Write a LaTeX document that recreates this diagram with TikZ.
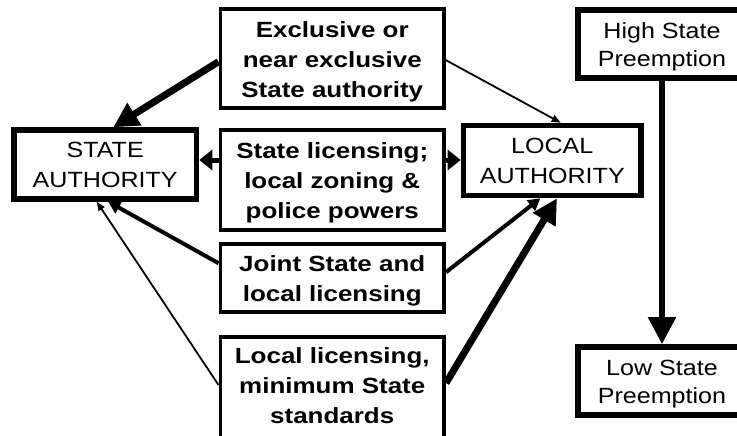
\documentclass[tikz,border=0pt]{standalone}
\usepackage{fontspec}
\usepackage{graphicx}
\setmainfont{Liberation Sans}
\usetikzlibrary{arrows.meta,calc}
\newcommand{\topst}{\rule{0pt}{22pt}}
\newcommand{\topsp}{\rule{0pt}{21pt}}
\newcommand{\rg}[1]{\scalebox{1.14}[1]{#1}}
\newcommand{\bd}[1]{\scalebox{1.18}[1]{#1}}
\begin{document}
\begin{tikzpicture}[x=1pt,y=-1pt,
  authbox/.style={draw, line width=5.5pt, inner sep=0pt, align=center, font=\fontsize{22}{30}\selectfont},
  midbox/.style={draw, line width=3.8pt, inner sep=0pt, align=center, font=\bfseries\fontsize{22}{30}\selectfont, minimum width=223.7pt},
  preembox/.style={draw, line width=5.5pt, inner sep=0pt, align=center, font=\fontsize{22}{28}\selectfont, minimum width=168.5pt, minimum height=67.9pt},
  thickarrow/.style={line width=7pt, -{Triangle[length=25pt,width=25pt]}},
  medarrow/.style={line width=4pt, -{Triangle[length=12pt,width=13pt]}},
  sidearrow/.style={line width=5pt, -{Triangle[length=13pt,width=20pt]}},
  thinarrow/.style={line width=1.8pt, -{Triangle[length=9pt,width=7pt]}},
  vertarrow/.style={line width=5.5pt, -{Triangle[length=27pt,width=27pt]}},
]
\fill[white] (0,0) rectangle (737,436);
\useasboundingbox (0,0) rectangle (737,436);

\node[authbox, minimum width=182.8pt, minimum height=68.9pt] (SA) at (105.2,164.5) {\rg{STATE}\\\rg{AUTHORITY}};
\node[authbox, minimum width=177.8pt, minimum height=70.1pt] (LA) at (552.3,160.5) {\rg{LOCAL}\\\rg{AUTHORITY}};

\node[midbox, minimum height=98.9pt] (EX) at (332.25,58.7) {\topst\bd{Exclusive or}\\\bd{near exclusive}\\\bd{State authority}};
\node[midbox, minimum height=99.6pt] (SL) at (332.25,180) {\topst\bd{State licensing;}\\\bd{local zoning \&}\\\bd{police powers}};
\node[midbox, minimum height=67.9pt] (JT) at (332.25,278.2) {\topst\bd{Joint State and}\\\bd{local licensing}};
\node[midbox, minimum height=111.2pt] (LL) at (332.25,392.5) {\topst\bd{Local licensing,}\\\bd{minimum State}\\\bd{standards}\rule[-20.4pt]{0pt}{0pt}};

\node[preembox] (High) at (662,44) {\topsp\rg{High State}\\\rg{Preemption}};
\node[preembox] (Low) at (662,380.8) {\topsp\rg{Low State}\\\rg{Preemption}};

\draw[thickarrow] ($(EX.west)+(0,3)$) -- ($(SA.north)+(8,0)$);
\draw[thinarrow] ($(EX.east)+(0,1.5)$) -- ($(LA.north)+(8.4,0)$);
\draw[sidearrow] ($(SL.west)+(0,-20)$) -- ($(SA.east)+(0,-4.5)$);
\draw[sidearrow] ($(SL.east)+(0,-20)$) -- ($(LA.west)+(0,-0.5)$);
\draw[medarrow] ($(JT.west)+(0,-15)$) -- ($(SA.south)+(3,0)$);
\draw[medarrow] ($(JT.east)+(0,-6)$) -- ($(LA.south)+(-12,0)$);
\draw[thinarrow] ($(LL.west)+(0,-7.5)$) -- ($(SA.south)+(-8.5,0)$);
\draw[thickarrow] ($(LL.east)+(0,-9.5)$) -- ($(LA.south)+(4.7,0)$);
\draw[vertarrow] (High.south) -- (Low.north);
\end{tikzpicture}
\end{document}
